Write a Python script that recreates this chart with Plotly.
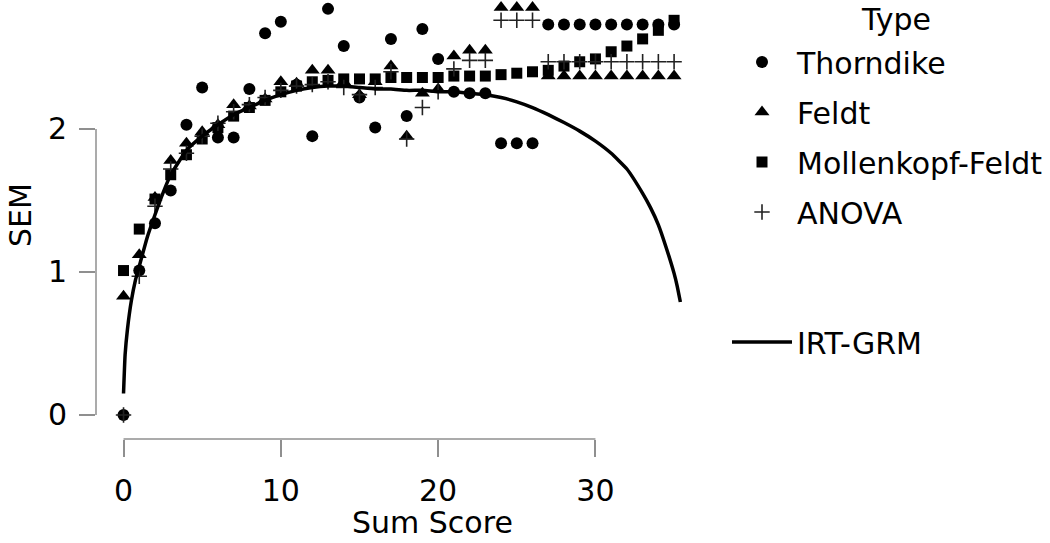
import plotly.graph_objects as go

# ---- data ----
scores = list(range(36))

thorndike = [0.00, 1.01, 1.34, 1.57, 2.03, 2.29, 1.94, 1.94, 2.28, 2.67,
             2.75, 2.31, 1.95, 2.84, 2.58, 2.22, 2.01, 2.63, 2.09, 2.70,
             2.49, 2.26, 2.25, 2.25, 1.90, 1.90, 1.90, 2.73, 2.73, 2.73,
             2.73, 2.73, 2.73, 2.73, 2.73, 2.73]

feldt = [0.83, 1.12, 1.52, 1.78, 1.90, 1.98, 2.03, 2.17, 2.16, 2.21,
         2.33, 2.32, 2.41, 2.41, 2.33, 2.24, 2.33, 2.44, 1.95, 2.25,
         2.28, 2.51, 2.55, 2.55, 2.85, 2.85, 2.85, 2.37, 2.37, 2.37,
         2.37, 2.37, 2.37, 2.37, 2.37, 2.37]

mollenkopf = [1.01, 1.30, 1.51, 1.68, 1.82, 1.93, 2.01, 2.09, 2.15, 2.20,
              2.26, 2.30, 2.33, 2.34, 2.35, 2.35, 2.35, 2.36, 2.36, 2.36,
              2.36, 2.37, 2.37, 2.37, 2.38, 2.39, 2.40, 2.41, 2.44, 2.47,
              2.49, 2.54, 2.58, 2.63, 2.69, 2.76]

anova = [0.00, 0.97, 1.46, 1.72, 1.83, 1.95, 2.04, 2.12, 2.17, 2.22,
         2.27, 2.30, 2.31, 2.33, 2.29, 2.24, 2.29, 2.40, 1.93, 2.15,
         2.26, 2.42, 2.48, 2.48, 2.76, 2.76, 2.76, 2.47, 2.47, 2.47,
         2.47, 2.47, 2.47, 2.47, 2.47, 2.47]

irt_x = [0, 0.1, 0.25, 0.5, 0.75, 1, 1.5, 2, 2.5, 3, 4, 5, 6, 7, 8, 9, 10,
         11, 12, 13, 14, 15, 16, 17, 18, 19, 20, 21, 22, 23, 24, 25, 26, 27,
         28, 29, 30, 31, 32, 33, 33.5, 34, 34.5, 35, 35.2, 35.4]
irt_y = [0.15, 0.42, 0.60, 0.80, 0.94, 1.04, 1.24, 1.40, 1.55, 1.68, 1.85,
         1.95, 2.03, 2.10, 2.15, 2.20, 2.24, 2.27, 2.29, 2.30, 2.30, 2.29,
         2.28, 2.28, 2.27, 2.27, 2.26, 2.26, 2.25, 2.24, 2.22, 2.19, 2.15,
         2.10, 2.045, 1.985, 1.915, 1.83, 1.72, 1.55, 1.45, 1.33, 1.17, 0.99,
         0.90, 0.79]

x_ticks = [0, 10, 20, 30]
y_ticks = [0, 1, 2]

FONT = "DejaVu Sans"
FS = 30
AXIS_GREY = "#8f8f8f"

fig = go.Figure()

def add_pts(name, y, symbol, size, color="black", lw=0):
    mk = dict(symbol=symbol, size=size, color=color, line=dict(width=lw, color=color))
    fig.add_trace(go.Scatter(x=scores, y=y, mode="markers", name=name,
                             marker=mk, cliponaxis=False, legend="legend",
                             legendgroup=name))

add_pts("Thorndike", thorndike, "circle", 12)
add_pts("Feldt", feldt, "triangle-up", 13)
add_pts("Mollenkopf-Feldt", mollenkopf, "square", 11)
add_pts("ANOVA", anova, "cross-thin", 11, color="#222222", lw=1.6)

fig.add_trace(go.Scatter(x=irt_x, y=irt_y, mode="lines", name="IRT-GRM",
                         line=dict(color="black", width=3.5, shape="spline", smoothing=0.4),
                         legend="legend2", cliponaxis=False))

# range-frame axis lines
fig.add_shape(type="line", xref="x", yref="paper", x0=x_ticks[0], x1=x_ticks[-1],
              y0=0, y1=0, line=dict(color=AXIS_GREY, width=1.5))
fig.add_shape(type="line", xref="paper", yref="y", x0=0, x1=0,
              y0=y_ticks[0], y1=y_ticks[-1], line=dict(color=AXIS_GREY, width=1.5))

fig.update_layout(
    width=1050, height=543,
    margin=dict(l=96, r=282, t=0, b=104),
    paper_bgcolor="white", plot_bgcolor="white",
    font=dict(family=FONT, size=FS, color="black"),
    showlegend=True,
    legend=dict(x=(727 - 96) / 672, y=1 - 36 / 439, xanchor="left", yanchor="top",
                font=dict(size=FS), tracegroupgap=8, itemwidth=60,
                bgcolor="rgba(0,0,0,0)"),
    legend2=dict(x=(727 - 96) / 672, y=(439 - 342) / 439, xanchor="left", yanchor="middle",
                 font=dict(size=FS), itemwidth=60, bgcolor="rgba(0,0,0,0)"),
    xaxis=dict(range=[-1.75, 40.97], tickvals=x_ticks, ticktext=[str(v) for v in x_ticks],
               showline=False, showgrid=False, zeroline=False,
               ticks="outside", ticklen=17, tickwidth=1.5, tickcolor=AXIS_GREY,
               ticklabelstandoff=8,
               tickfont=dict(size=FS, color="black")),
    yaxis=dict(range=[-0.168, 2.902], tickvals=y_ticks, ticktext=[str(v) for v in y_ticks],
               showline=False, showgrid=False, zeroline=False,
               ticks="outside", ticklen=16, tickwidth=1.5, tickcolor=AXIS_GREY,
               ticklabelstandoff=6,
               tickfont=dict(size=FS, color="black")),
    annotations=[
        dict(text="Type", xref="paper", yref="paper", x=(896 - 96) / 672, y=1.0,
             xanchor="center", yanchor="top", showarrow=False, font=dict(size=FS)),
        dict(text="Sum Score", xref="paper", yref="paper", x=0.5, y=-0.191,
             xanchor="center", yanchor="middle", showarrow=False, font=dict(size=FS)),
        dict(text="SEM", xref="paper", yref="paper", x=(20 - 96) / 672, y=0.51,
             xanchor="center", yanchor="middle", textangle=-90, showarrow=False,
             font=dict(size=FS)),
    ],
)

fig.write_html("out.html")
